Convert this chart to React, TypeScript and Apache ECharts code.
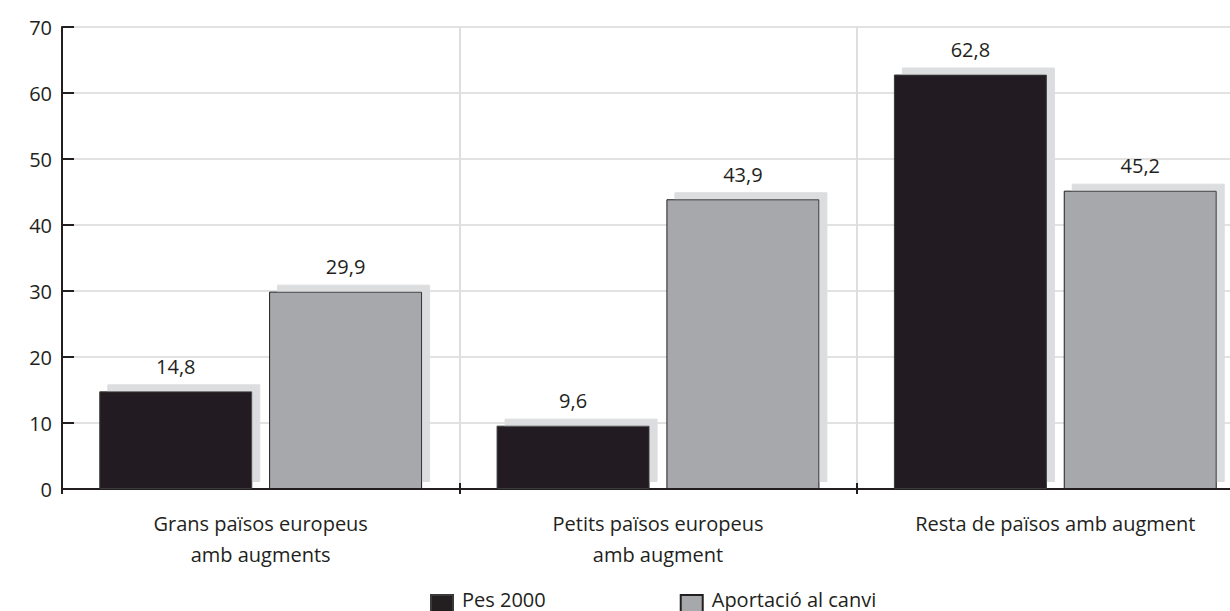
import React, { useEffect, useRef } from "react";
import * as echarts from "echarts";

const categories = ["Grans països europeus\namb augments", "Petits països europeus\namb augment", "Resta de països amb augment"];
const pes2000 = [14.8, 9.6, 62.8];
const aportacio = [29.9, 43.9, 45.2];
const seriesNames = ["Pes 2000", "Aportació al canvi"];

const FONT = "'Open Sans', 'Noto Sans', sans-serif";
const DARK = "#231f20";
const GREY = "#a7a8ab";

export default function App() {
  const ref = useRef<HTMLDivElement>(null);
  useEffect(() => {
    document.body.style.margin = "0";
    const chart = echarts.init(ref.current!, null, { renderer: "svg" });
    const label = {
      show: true,
      position: "top",
      distance: 15,
      fontFamily: FONT,
      fontSize: 20,
      color: DARK,
      formatter: (p: any) => String(p.value).replace(".", ","),
    };
    const shadow = { shadowColor: "#dcdddf", shadowBlur: 0, shadowOffsetX: 8, shadowOffsetY: -7 };
    chart.setOption({
      animation: false,
      textStyle: { fontFamily: FONT },
      grid: { left: 62, width: 1192, top: 27, bottom: 122, outerBoundsMode: "none", containLabel: false },
      legend: {
        left: 425,
        top: 575,
        itemWidth: 22,
        itemHeight: 36,
        itemGap: 134,
        icon: "path://M0,0L0,0M0,14L22,14L22,36L0,36Z",
        textStyle: { fontFamily: FONT, fontSize: 20, lineHeight: 20, color: DARK, padding: [0, 0, 0, 4] },
        data: seriesNames,
      },
      xAxis: [
        {
          type: "category",
          data: categories,
          axisLine: { lineStyle: { color: DARK, width: 2 } },
          axisTick: { show: true, inside: true, length: 6, lineStyle: { color: DARK, width: 2 } },
          axisLabel: { fontFamily: FONT, fontSize: 20, color: DARK, margin: 19, lineHeight: 31 },
          splitLine: { show: true, lineStyle: { color: "#dedede", width: 2 } },
        },
        {
          type: "category",
          data: categories,
          position: "bottom",
          axisLine: { show: false },
          axisTick: { show: true, length: 5, lineStyle: { color: DARK, width: 2 } },
          axisLabel: { show: false },
          splitLine: { show: false },
        },
      ],
      yAxis: {
        type: "value",
        min: 0,
        max: 70,
        interval: 10,
        axisLine: { show: true, lineStyle: { color: DARK, width: 2 } },
        axisTick: { show: true, inside: true, length: 12, lineStyle: { color: DARK, width: 2 } },
        axisLabel: { fontFamily: FONT, fontSize: 20, color: DARK, margin: 10 },
        splitLine: { show: true, lineStyle: { color: "#e2e2e2", width: 2 } },
      },
      series: [
        {
          name: seriesNames[0],
          type: "bar",
          data: pes2000,
          barWidth: 153,
          barGap: "11%",
          itemStyle: { color: DARK, borderColor: "#3a3a3a", borderWidth: 1, ...shadow },
          label,
        },
        {
          name: seriesNames[1],
          type: "bar",
          data: aportacio,
          barWidth: 153,
          barGap: "11%",
          itemStyle: { color: GREY, borderColor: DARK, borderWidth: 1, ...shadow },
          label,
        },
      ],
    });
    return () => chart.dispose();
  }, []);
  return <div ref={ref} style={{ width: 1230, height: 611 }} />;
}
